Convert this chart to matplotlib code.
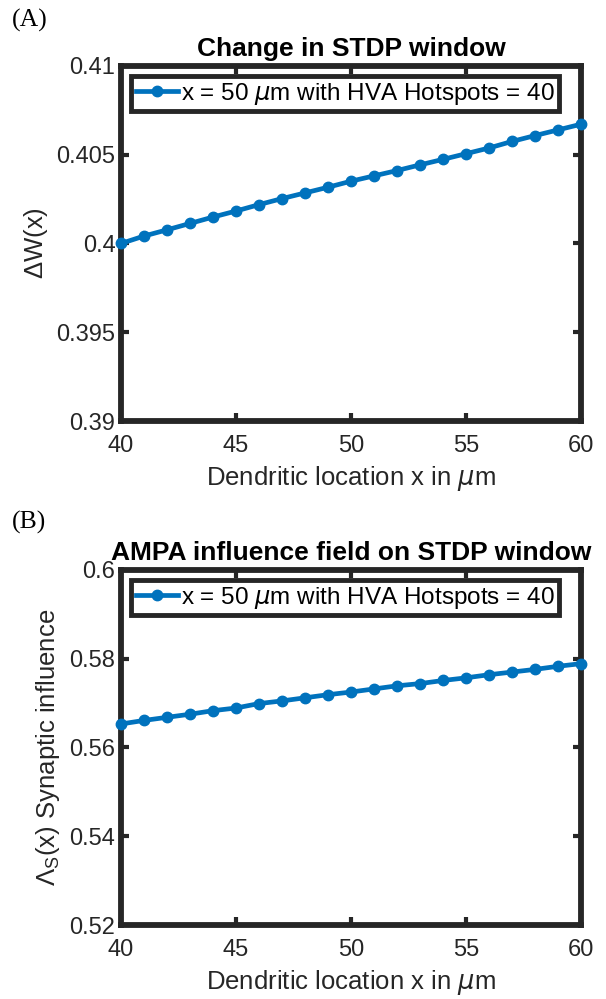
import matplotlib
matplotlib.use("Agg")
import matplotlib.pyplot as plt

plt.rcParams['font.family'] = ['Liberation Sans', 'DejaVu Sans']
plt.rcParams['mathtext.fontset'] = 'dejavusans'
plt.rcParams['mathtext.default'] = 'regular'

x_um = [40, 41, 42, 43, 44, 45, 46, 47, 48, 49, 50, 51, 52, 53, 54, 55, 56, 57, 58, 59, 60]
delta_w = [0.4000, 0.40042, 0.40077, 0.40113, 0.40149, 0.40183, 0.40219, 0.40253, 0.40285,
           0.40317, 0.40351, 0.40381, 0.40411, 0.40443, 0.40474, 0.40506, 0.40538, 0.40575,
           0.40608, 0.4064, 0.40672]
lambda_s = [0.5653, 0.5661, 0.5668, 0.5675, 0.5683, 0.5689, 0.5699, 0.5705, 0.5712, 0.5719,
            0.5725, 0.5732, 0.5739, 0.5744, 0.5751, 0.5757, 0.5764, 0.5770, 0.5776, 0.5783,
            0.5789]

xticks = [40, 45, 50, 55, 60]
yticks_a = [0.39, 0.395, 0.40, 0.405, 0.41]
yticklabels_a = ['0.39', '0.395', '0.4', '0.405', '0.41']
yticks_b = [0.52, 0.54, 0.56, 0.58, 0.60]
yticklabels_b = ['0.52', '0.54', '0.56', '0.58', '0.6']

legend_label = r'x = 50 $\mathit{\mu}$m with HVA Hotspots = 40'
xlabel = r'Dendritic location x in $\mathit{\mu}$m'

blue = '#0072BD'
dark = '#262626'
W, H = 606, 999
fig = plt.figure(figsize=(W / 100, H / 100), dpi=100)

def make_axes(top_px, bottom_px):
    left, right = 121, 581
    return fig.add_axes([left / W, 1 - bottom_px / H, (right - left) / W, (bottom_px - top_px) / H])

def style(ax, y, yticks, yticklabels, ylim, title, ylabel):
    ax.plot(x_um, y, '-o', color=blue, lw=3.4, ms=7.5, label=legend_label, clip_on=False, zorder=3)
    ax.set_xlim(40, 60)
    ax.set_ylim(*ylim)
    ax.set_xticks(xticks)
    ax.set_xticklabels([str(t) for t in xticks])
    ax.set_yticks(yticks)
    ax.set_yticklabels(yticklabels)
    for s in ax.spines.values():
        s.set_linewidth(4.2)
        s.set_color(dark)
    ax.tick_params(direction='in', length=6, width=3, color=dark, labelsize=17,
                   top=True, right=True, labelcolor=dark)
    ax.tick_params(axis='x', pad=10)
    ax.tick_params(axis='y', pad=4)
    ax.set_title(title, fontsize=19, fontweight='bold', pad=7)
    ax.set_xlabel(xlabel, fontsize=18.5, color=dark, labelpad=5)
    ax.set_ylabel(ylabel, fontsize=18.5, color=dark, labelpad=5)
    leg = ax.legend(loc='upper left', bbox_to_anchor=(0.0, 1.0), fontsize=17.5,
                    frameon=True, fancybox=False, framealpha=1.0, borderpad=0.2,
                    handlelength=1.75, handletextpad=0.1, borderaxespad=0.4)
    leg.get_frame().set_edgecolor(dark)
    leg.get_frame().set_linewidth(3.5)

ax1 = make_axes(66, 421)
style(ax1, delta_w, yticks_a, yticklabels_a, (0.39, 0.41), 'Change in STDP window', r'$\Delta$W(x)')
ax2 = make_axes(570, 925)
style(ax2, lambda_s, yticks_b, yticklabels_b, (0.52, 0.60), 'AMPA influence field on STDP window',
      r'$\Lambda_S$(x) Synaptic influence')

fig.text(12 / W, 1 - 20 / H, '(A)', family='Liberation Serif', fontsize=18.5, va='center', ha='left')
fig.text(12 / W, 1 - 522 / H, '(B)', family='Liberation Serif', fontsize=18.5, va='center', ha='left')

fig.savefig('out.png', dpi=100, facecolor='white')
